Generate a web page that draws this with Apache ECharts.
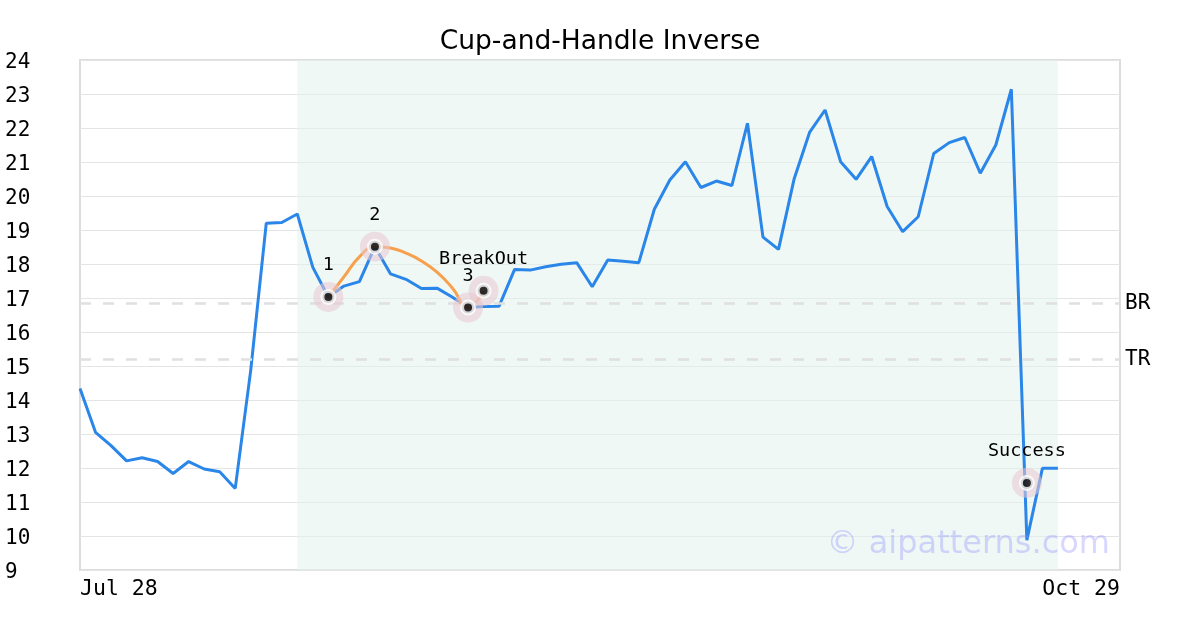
<!DOCTYPE html>
<html>
<head>
<meta charset="utf-8">
<script src="https://cdn.jsdelivr.net/npm/echarts@6/dist/echarts.min.js"></script>
<style>
html,body{margin:0;padding:0;background:#fff;}
#chart{width:1200px;height:630px;}
</style>
</head>
<body>
<div id="chart"></div>
<script>
const categories = [
  "Jul 28","Jul 29","Jul 30","Jul 31",
  "Aug 1","Aug 4","Aug 5","Aug 6","Aug 7","Aug 8","Aug 11","Aug 12","Aug 13","Aug 14","Aug 15",
  "Aug 18","Aug 19","Aug 20","Aug 21","Aug 22","Aug 25","Aug 26","Aug 27","Aug 28","Aug 29",
  "Sep 1","Sep 2","Sep 3","Sep 4","Sep 5","Sep 8","Sep 9","Sep 10","Sep 11","Sep 12",
  "Sep 15","Sep 16","Sep 17","Sep 18","Sep 19","Sep 22","Sep 23","Sep 24","Sep 25","Sep 26",
  "Sep 29","Sep 30",
  "Oct 1","Oct 2","Oct 3","Oct 6","Oct 7","Oct 8","Oct 9","Oct 10","Oct 13","Oct 14","Oct 15",
  "Oct 16","Oct 17","Oct 20","Oct 21","Oct 22","Oct 23","Oct 24","Oct 27","Oct 28","Oct 29"
];
const priceValues = [
  14.34, 13.05, 12.66, 12.21, 12.30, 12.19, 11.84, 12.19, 11.97, 11.89,
  11.40, 14.88, 19.20, 19.22, 19.47, 17.90, 17.03, 17.35, 17.48, 18.51,
  17.71, 17.55, 17.28, 17.29, 17.02, 16.72, 16.75, 16.76, 17.84, 17.82,
  17.92, 17.99, 18.04, 17.33, 18.12, 18.08, 18.04, 19.61, 20.47, 21.01,
  20.25, 20.44, 20.31, 22.14, 18.79, 18.43, 20.49, 21.87, 22.53, 21.01,
  20.49, 21.16, 19.69, 18.95, 19.39, 21.25, 21.57, 21.72, 20.67, 21.50,
  23.14, 9.88, 11.99, 11.99
];
const cupStartIndex = 16;
const cupValues = [17.03, 17.62, 18.21, 18.51, 18.47, 18.32, 18.09, 17.76, 17.29, 16.72, 17.21];
const markerIndex = [16, 19, 25, 26, 61];
const markerValues = [17.03, 18.51, 16.72, 17.21, 11.56];
const markerLabels = ["1", "2", "3", "BreakOut", "Success"];
const patternStartIndex = 14;
const patternEndIndex = 63;
const levelValues = [16.85, 15.2];
const levelLabels = ["BR", "TR"];
const yTicks = {min: 9, max: 24, interval: 1};

const mono = "DejaVu Sans Mono";
const cupData = cupValues.map((v, i) => [cupStartIndex + i, v]);
const markerData = markerIndex.map((x, i) => ({value: [x, markerValues[i]], label: {formatter: markerLabels[i]}}));
const haloData = markerIndex.map((x, i) => [x, markerValues[i]]);

const chart = echarts.init(document.getElementById('chart'), null, {renderer: 'canvas'});
chart.setOption({
  animation: false,
  title: {
    text: "Cup-and-Handle Inverse",
    left: 'center', top: 24,
    textStyle: {fontFamily: "DejaVu Sans", fontSize: 26.5, fontWeight: 'normal', color: '#000'}
  },
  grid: {left: 80, right: 80, top: 60, bottom: 60, show: true, borderColor: '#dddddd', borderWidth: 2, backgroundColor: 'transparent'},
  xAxis: {
    type: 'category',
    data: categories,
    boundaryGap: false,
    axisLine: {show: false},
    axisTick: {show: false},
    splitLine: {show: false},
    axisLabel: {
      interval: (i) => i === 0 || i === categories.length - 1,
      fontFamily: mono, fontSize: 21.5, color: '#000', margin: 8,
      alignMinLabel: 'left', alignMaxLabel: 'right'
    }
  },
  yAxis: {
    type: 'value',
    min: yTicks.min, max: yTicks.max, interval: yTicks.interval,
    axisLine: {show: false},
    axisTick: {show: false},
    splitLine: {lineStyle: {color: '#e4e4e4', width: 1}},
    axisLabel: {
      fontFamily: mono, fontSize: 21, color: '#000', align: 'left', margin: 75,
      formatter: '{a|{value}}',
      rich: {a: {fontFamily: mono, fontSize: 21, color: '#000', padding: [6, 0, 0, 0]}}
    }
  },
  series: [
    {
      type: 'line',
      data: priceValues,
      showSymbol: false,
      lineStyle: {color: '#2a86e8', width: 3},
      itemStyle: {color: '#2a86e8'},
      z: 3,
      markArea: {
        silent: true,
        itemStyle: {color: 'rgba(226,242,236,0.55)'},
        data: [[{xAxis: patternStartIndex}, {xAxis: patternEndIndex}]]
      },
      markLine: {
        silent: true,
        symbol: 'none',
        lineStyle: {color: '#e0e0e0', width: 2.5, type: [11, 12]},
        label: {position: 'end', fontFamily: mono, fontSize: 21, color: '#000', distance: 5, padding: [5, 0, 0, 0]},
        data: levelValues.map((v, i) => ({yAxis: v, name: levelLabels[i], label: {formatter: levelLabels[i]}}))
      }
    },
    {
      type: 'line',
      data: cupData,
      smooth: true,
      showSymbol: false,
      lineStyle: {color: '#f7a04e', width: 3},
      z: 4
    },
    {
      type: 'scatter',
      data: haloData,
      symbolSize: 30,
      itemStyle: {color: 'rgba(232,200,208,0.7)'},
      z: 5,
      silent: true
    },
    {
      type: 'scatter',
      data: markerData,
      symbolSize: 12,
      itemStyle: {color: '#000', borderColor: '#fff', borderWidth: 4},
      label: {show: true, position: 'top', distance: 14, fontFamily: mono, fontSize: 18.5, color: '#000', textBorderWidth: 0, opacity: 1},
      emphasis: {disabled: true},
      z: 6
    }
  ],
  graphic: [{
    type: 'text',
    right: 90, bottom: 69,
    style: {text: '© aipatterns.com', fontFamily: 'DejaVu Sans', fontSize: 32, fill: 'rgba(140,140,255,0.35)'},
    z: 10
  }]
});
</script>
</body>
</html>
